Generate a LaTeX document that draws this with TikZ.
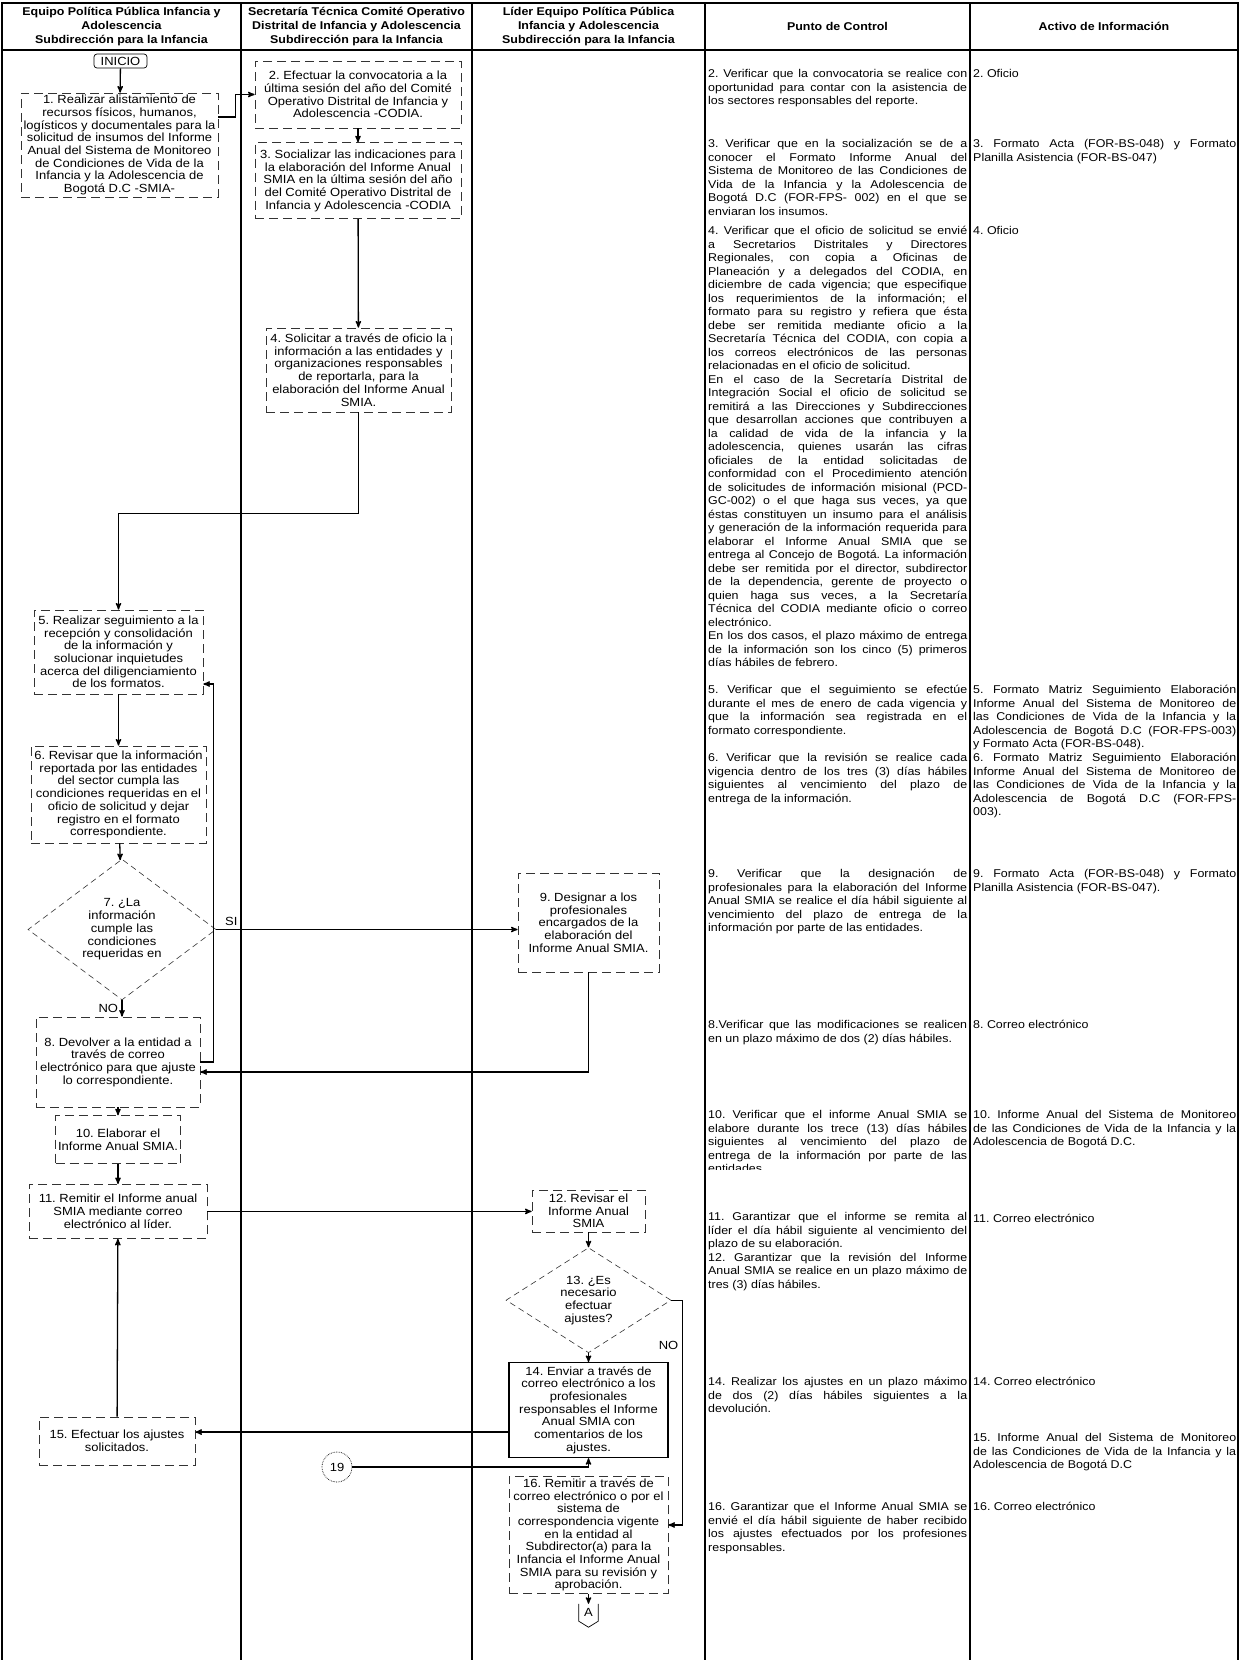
\documentclass[tikz,border=0pt]{standalone}
\usepackage{fontspec}
\setmainfont{Liberation Sans}[FakeStretch=1.1]
\usetikzlibrary{positioning, shapes.geometric, arrows}
\newcommand{\jbr}{\unskip\linebreak}
\tolerance=10000
\hbadness=10000
\frenchspacing
\tikzset{
  >=stealth',
  every node/.style={font=\fontsize{11.8}{12.7}\selectfont},
  tableline/.style={line width=1.3pt},
  header/.style={align=center, inner sep=0pt, font=\bfseries\fontsize{11.3}{14}\selectfont},
  activity/.style={draw=black!80, line width=0.7pt, dash pattern=on 9pt off 5pt, align=center, inner sep=2pt},
  solidactivity/.style={draw, line width=1.1pt, align=center, inner sep=2pt},
  decision/.style={diamond, draw=black!80, line width=0.6pt, dash pattern=on 6pt off 4pt, align=center, inner sep=0pt},
  terminal/.style={draw, rounded corners=3pt, line width=0.7pt, inner sep=2pt, minimum width=53pt, minimum height=14pt},
  connector/.style={circle, draw, densely dotted, line width=0.7pt, minimum size=30pt, inner sep=0pt},
  offpage/.style={inner sep=0pt, minimum width=19pt, minimum height=17pt},
  flow/.style={->, line width=1.3pt},
  control/.style={anchor=base west, inner sep=0pt, text width=259pt, align=justify, font=\fontsize{11.3}{13.5}\selectfont},
  asset/.style={control, text width=263pt},
}

\begin{document}
\begin{tikzpicture}[x=1pt, y=-1pt]
  \useasboundingbox (0,0) rectangle (1240,1660);

  % table
  \draw[tableline, line width=1.8pt] (2,1660) -- (2,3) -- (1238,3) -- (1238,1660);
  \draw[tableline] (2,50) -- (1238,50);
  \foreach \cx in {241,472,705,970}
    \draw[tableline] (\cx,3) -- (\cx,1660);

  % lanes
  \node[header] (h1) at (121.5,26.5) {Equipo Política Pública Infancia y\\Adolescencia\\Subdirección para la Infancia};
  \node[header] (h2) at (356.5,26.5) {Secretaría Técnica Comité Operativo\\Distrital de Infancia y Adolescencia\\Subdirección para la Infancia};
  \node[header] (h3) at (588.5,26.5) {Líder Equipo Política Pública\\Infancia y Adolescencia\\Subdirección para la Infancia};
  \node[header] (h4) at (837.5,26.5) {Punto de Control};
  \node[header] (h5) at (1104,26.5) {Activo de Información};

  % activities
  \node[terminal] (inicio) at (120.5,61) {INICIO};
  \node[activity, minimum width=197pt, minimum height=104pt] (a1) at (119.5,145)
    {1. Realizar alistamiento de\\recursos físicos, humanos,\\logísticos y documentales para la\\solicitud de insumos del Informe\\Anual del Sistema de Monitoreo\\de Condiciones de Vida de la\\Infancia y la Adolescencia de\\Bogotá D.C -SMIA-};
  \node[activity, minimum width=206pt, minimum height=67pt] (a2) at (358,94.5)
    {2. Efectuar la convocatoria a la\\última sesión del año del Comité\\Operativo Distrital de Infancia y\\Adolescencia -CODIA.};
  \node[activity, minimum width=206pt, minimum height=76pt, below=14pt of a2] (a3)
    {3. Socializar las indicaciones para\\la elaboración del Informe Anual\\SMIA en la última sesión del año\\del Comité Operativo Distrital de\\Infancia y Adolescencia -CODIA};
  \node[activity, minimum width=185pt, minimum height=84pt] (a4) at (358.5,370)
    {4. Solicitar a través de oficio la\\información a las entidades y\\organizaciones responsables\\de reportarla, para la\\elaboración del Informe Anual\\SMIA.};
  \node[activity, minimum width=169pt, minimum height=84pt] (a5) at (118.5,652)
    {5. Realizar seguimiento a la\\recepción y consolidación\\de la información y\\solucionar inquietudes\\acerca del diligenciamiento\\de los formatos.};
  \node[activity, minimum width=175pt, minimum height=97pt] (a6) at (118.5,794.5)
    {6. Revisar que la información\\reportada por las entidades\\del sector cumpla las\\condiciones requeridas en el\\oficio de solicitud y dejar\\registro en el formato\\correspondiente.};
  \node[decision, minimum width=188pt, minimum height=135pt] (d7) at (122,929.5)
    {7. ¿La\\información\\cumple las\\condiciones\\requeridas en};
  \node[activity, minimum width=164pt, minimum height=90pt] (a8) at (118,1062)
    {8. Devolver a la entidad a\\través de correo\\electrónico para que ajuste\\lo correspondiente.};
  \node[activity, minimum width=141pt, minimum height=99pt] (a9) at (588.5,922.5)
    {9. Designar a los\\profesionales\\encargados de la\\elaboración del\\Informe Anual SMIA.};
  \node[activity, minimum width=125pt, minimum height=48pt, below=8pt of a8] (a10)
    {10. Elaborar el\\Informe Anual SMIA.};
  \node[activity, minimum width=178pt, minimum height=54pt, below=20pt of a10] (a11)
    {11. Remitir el Informe anual\\SMIA mediante correo\\electrónico al líder.};
  \node[activity, minimum width=113pt, minimum height=42pt] (a12) at (588.5,1211)
    {12. Revisar el\\Informe Anual\\SMIA};
  \node[decision, minimum width=165pt, minimum height=101pt, below=15pt of a12] (d13)
    {13. ¿Es\\necesario\\efectuar\\ajustes?};
  \node[solidactivity, minimum width=159pt, minimum height=95pt, below=9pt of d13] (a14)
    {14. Enviar a través de\\correo electrónico a los\\profesionales\\responsables el Informe\\Anual SMIA con\\comentarios de los\\ajustes.};
  \node[activity, minimum width=156pt, minimum height=48pt] (a15) at (117,1441)
    {15. Efectuar los ajustes\\solicitados.};
  \node[connector] (c19) at (337,1467) {19};
  \node[activity, minimum width=159pt, minimum height=117pt, below=18pt of a14] (a16)
    {16. Remitir a través de\\correo electrónico o por el\\sistema de\\correspondencia vigente\\en la entidad al\\Subdirector(a) para la\\Infancia el Informe Anual\\SMIA para su revisión y\\aprobación.};
  \node[offpage, below=10pt of a16] (offA) {A};
  \draw[line width=0.7pt] (offA.north west) -- (offA.south west) -- ([yshift=-6pt]offA.south)
    -- (offA.south east) -- (offA.north east);

  % flows
  \draw[flow] (inicio) -- (a1);
  \draw[flow] ([yshift=28pt]a1.east) -- ++(17,0) |- (a2.west);
  \draw[flow] (a2) -- (a3);
  \draw[flow] (a3) -- (a4);
  \draw[flow] (a4.south) -- ++(0,101) -| (a5.north);
  \draw[flow] (a5) -- (a6);
  \draw[flow] (a6) -- (d7);
  \draw[flow] (d7.east) -- node[above, pos=0.05] {SI} (d7.east -| a9.west);
  \draw[flow] (d7.south) -- node[left] {NO} (d7.south |- a8.north);
  \draw[flow] (a8.east) -- ++(13,0) |- ([yshift=-32pt]a5.east);
  \draw[flow] (a9.south) |- ([yshift=-10pt]a8.east);
  \draw[flow] (a8) -- (a10);
  \draw[flow] (a10) -- (a11);
  \draw[flow] (a11.east) -- (a11.east -| a12.west);
  \draw[flow] (a12) -- (d13);
  \draw[flow] (d13) -- (a14);
  \draw[flow] (d13.east) -- ++(11,0) |- node[left, pos=0.1] {NO} ([yshift=10pt]a16.east);
  \draw[flow] ([yshift=-22pt]a14.west) -- ([yshift=-22pt]a14.west -| a15.east);
  \draw[flow] (a15) -- (a11);
  \draw[flow] (c19) -| (a14.south);
  \draw[flow] (a16) -- (offA);

  % controls
  \node[control] (pc2) at (708,77.5) {2. Verificar que la convocatoria se realice con\jbr
    oportunidad para contar con la asistencia de\jbr
    los sectores responsables del reporte.};
  \node[control] (pc3) at (708,147.5) {3. Verificar que en la socialización se de a\jbr
    conocer el Formato Informe Anual del\jbr
    Sistema de Monitoreo de las Condiciones de\jbr
    Vida de la Infancia y la Adolescencia de\jbr
    Bogotá D.C (FOR-FPS- 002) en el que se\jbr
    enviaran los insumos.};
  \node[control] (pc4) at (708,234.5) {4. Verificar que el oficio de solicitud se envié\jbr
    a Secretarios Distritales y Directores\jbr
    Regionales, con copia a Oficinas de\jbr
    Planeación y a delegados del CODIA, en\jbr
    diciembre de cada vigencia; que especifique\jbr
    los requerimientos de la información; el\jbr
    formato para su registro y refiera que ésta\jbr
    debe ser remitida mediante oficio a la\jbr
    Secretaría Técnica del CODIA, con copia a\jbr
    los correos electrónicos de las personas\jbr
    relacionadas en el oficio de solicitud.\par
    En el caso de la Secretaría Distrital de\jbr
    Integración Social el oficio de solicitud se\jbr
    remitirá a las Direcciones y Subdirecciones\jbr
    que desarrollan acciones que contribuyen a\jbr
    la calidad de vida de la infancia y la\jbr
    adolescencia, quienes usarán las cifras\jbr
    oficiales de la entidad solicitadas de\jbr
    conformidad con el Procedimiento atención\jbr
    de solicitudes de información misional (PCD-\jbr
    GC-002) o el que haga sus veces, ya que\jbr
    éstas constituyen un insumo para el análisis\jbr
    y generación de la información requerida para\jbr
    elaborar el Informe Anual SMIA que se\jbr
    entrega al Concejo de Bogotá. La información\jbr
    debe ser remitida por el director, subdirector\jbr
    de la dependencia, gerente de proyecto o\jbr
    quien haga sus veces, a la Secretaría\jbr
    Técnica del CODIA mediante oficio o correo\jbr
    electrónico.\par
    En los dos casos, el plazo máximo de entrega\jbr
    de la información son los cinco (5) primeros\jbr
    días hábiles de febrero.};
  \node[control] (pc5) at (708,693.5) {5. Verificar que el seguimiento se efectúe\jbr
    durante el mes de enero de cada vigencia y\jbr
    que la información sea registrada en el\jbr
    formato correspondiente.};
  \node[control] (pc6) at (708,761.5) {6. Verificar que la revisión se realice cada\jbr
    vigencia dentro de los tres (3) días hábiles\jbr
    siguientes al vencimiento del plazo de\jbr
    entrega de la información.};
  \node[control] (pc9) at (708,877.5) {9. Verificar que la designación de\jbr
    profesionales para la elaboración del Informe\jbr
    Anual SMIA se realice el día hábil siguiente al\jbr
    vencimiento del plazo de entrega de la\jbr
    información por parte de las entidades.};
  \node[control] (pc8) at (708,1028.5) {8.Verificar que las modificaciones se realicen\jbr
    en un plazo máximo de dos (2) días hábiles.};
  \begin{scope}
    \clip (705,1100) rectangle (970,1169);
    \node[control] (pc10) at (708,1118.5) {10. Verificar que el informe Anual SMIA se\jbr
      elabore durante los trece (13) días hábiles\jbr
      siguientes al vencimiento del plazo de\jbr
      entrega de la información por parte de las\jbr
      entidades};
  \end{scope}
  \node[control] (pc11) at (708,1220.5) {11. Garantizar que el informe se remita al\jbr
    líder el día hábil siguiente al vencimiento del\jbr
    plazo de su elaboración.\par
    12. Garantizar que la revisión del Informe\jbr
    Anual SMIA se realice en un plazo máximo de\jbr
    tres (3) días hábiles.};
  \node[control] (pc14) at (708,1385.5) {14. Realizar los ajustes en un plazo máximo\jbr
    de dos (2) días hábiles siguientes a la\jbr
    devolución.};
  \node[control] (pc16) at (708,1510.5) {16. Garantizar que el Informe Anual SMIA se\jbr
    envié el día hábil siguiente de haber recibido\jbr
    los ajustes efectuados por los profesiones\jbr
    responsables.};

  % assets
  \node[asset] (ai2) at (973,77.5) {2. Oficio};
  \node[asset] (ai3) at (973,147.5) {3. Formato Acta (FOR-BS-048) y Formato\jbr
    Planilla Asistencia (FOR-BS-047)};
  \node[asset] (ai4) at (973,234.5) {4. Oficio};
  \node[asset] (ai5) at (973,693.5) {5. Formato Matriz Seguimiento Elaboración\jbr
    Informe Anual del Sistema de Monitoreo de\jbr
    las Condiciones de Vida de la Infancia y la\jbr
    Adolescencia de Bogotá D.C (FOR-FPS-003)\jbr
    y Formato Acta (FOR-BS-048).};
  \node[asset] (ai6) at (973,761.5) {6. Formato Matriz Seguimiento Elaboración\jbr
    Informe Anual del Sistema de Monitoreo de\jbr
    las Condiciones de Vida de la Infancia y la\jbr
    Adolescencia de Bogotá D.C (FOR-FPS-\jbr
    003).};
  \node[asset] (ai9) at (973,877.5) {9. Formato Acta (FOR-BS-048) y Formato\jbr
    Planilla Asistencia (FOR-BS-047).};
  \node[asset] (ai8) at (973,1028.5) {8. Correo electrónico};
  \node[asset] (ai10) at (973,1118.5) {10. Informe Anual del Sistema de Monitoreo\jbr
    de las Condiciones de Vida de la Infancia y la\jbr
    Adolescencia de Bogotá D.C.};
  \node[asset] (ai11) at (973,1222.5) {11. Correo electrónico};
  \node[asset] (ai14) at (973,1385.5) {14. Correo electrónico};
  \node[asset] (ai15) at (973,1441.5) {15. Informe Anual del Sistema de Monitoreo\jbr
    de las Condiciones de Vida de la Infancia y la\jbr
    Adolescencia de Bogotá D.C};
  \node[asset] (ai16) at (973,1510.5) {16. Correo electrónico};
\end{tikzpicture}
\end{document}
